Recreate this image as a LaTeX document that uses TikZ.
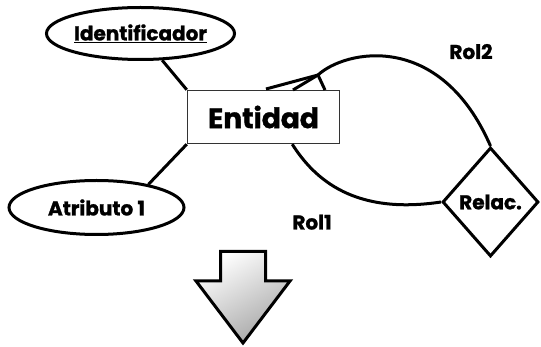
\documentclass[tikz,border=0pt]{standalone}
\usepackage{fontspec}
\setmainfont{Poppins}[BoldFeatures={FakeBold=1.2}]
\usetikzlibrary{shapes.geometric}
\tikzset{
  er/.style={font=\bfseries\fontsize{20}{24}\selectfont},
  attr/.style={er, ellipse, draw, line width=3pt, inner sep=0pt},
  entity/.style={rectangle, draw=black!80, line width=1.5pt, inner sep=0pt,
    font=\bfseries\fontsize{28}{32}\selectfont},
  relship/.style={er, diamond, draw, line width=3pt, inner sep=0pt},
  link/.style={line width=3pt}
}
\begin{document}
\begin{tikzpicture}[x=1pt, y=-1pt]
  \useasboundingbox (0,0) rectangle (541,347);
  \node[attr, minimum width=174pt, minimum height=52pt] (ident) at (140.5,33.5) {\underline{Identificador}};
  \node[attr, minimum width=175pt, minimum height=54pt] (atrib) at (96.5,207.5) {Atributo 1};
  \node[entity, minimum width=152pt, minimum height=53pt] (ent) at (263.5,117) {Entidad};
  \node[relship, minimum width=96pt, minimum height=109pt] (rel) at (490.5,202) {Relac.};
  \node[er, anchor=base] (rol2) at (471,59) {Rol2};
  \node[er, anchor=base] (rol1) at (312,229.5) {Rol1};

  \draw[link] (ident.-51) -- (ent.north west);
  \draw[link] (ent.south west) -- (atrib.24);

  \coordinate (foot) at (318,75);
  \coordinate (low) at ([xshift=-48pt]ent.south east);
  \draw[link] (foot) .. controls (345,50) and (440,30) .. (rel.north);
  \draw[link] (foot) -- (266,89);
  \draw[link] (foot) -- (293,90);
  \draw[link] (foot) -- (325,90);
  \draw[link] (low) .. controls (315,180) and (355,215) .. (rel.west);

  \draw[line width=3pt, line join=miter, top color=white, bottom color=black!35, shading angle=30]
    (220.5,251.5) -- (265.5,251.5) -- (265.5,281) -- (290,281) -- (243,343)
    -- (196,281) -- (220.5,281) -- cycle;
\end{tikzpicture}
\end{document}
